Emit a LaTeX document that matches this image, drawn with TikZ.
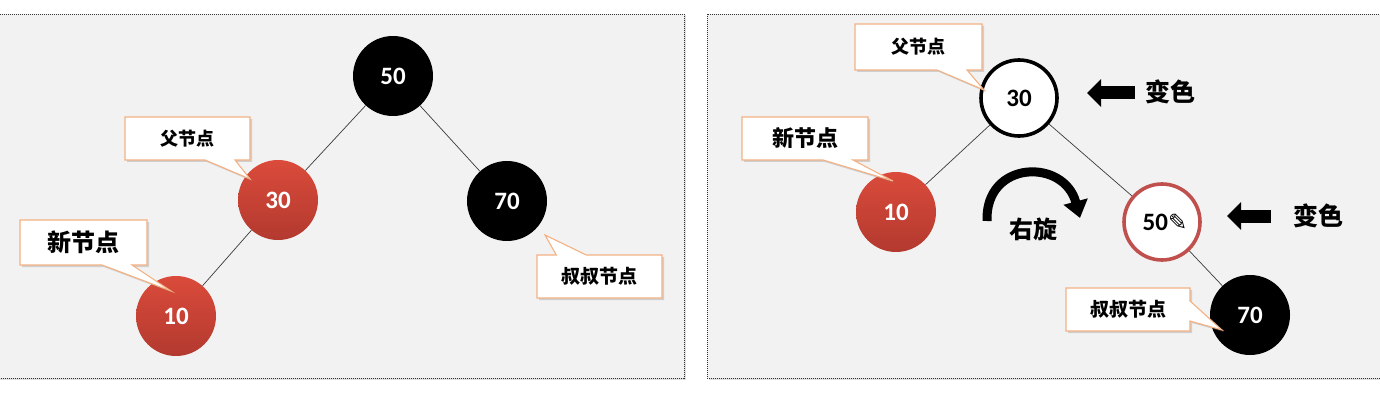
\documentclass[tikz,border=0pt]{standalone}
\usepackage{fontspec}
\setmainfont{Carlito}
\newfontfamily\cjk{Noto Sans CJK SC}
\newfontfamily\symf{DejaVu Sans}
\usetikzlibrary{shapes.callouts,shadows,arrows.meta}
\definecolor{panelbg}{HTML}{F2F2F2}
\definecolor{redtop}{HTML}{DA4B3B}
\definecolor{redbot}{HTML}{B3392F}
\definecolor{ringred}{HTML}{C0504D}
\definecolor{callb}{HTML}{F4B183}
\definecolor{edgec}{HTML}{3A3A3A}
\tikzset{
  panel/.style={fill=panelbg, draw=black!80, dash pattern=on 1pt off 1pt, line width=0.9pt,
    drop shadow={opacity=0.25, shadow xshift=1.5pt, shadow yshift=-1.5pt}},
  numfont/.style={font=\bfseries\fontsize{25}{27}\selectfont},
  rednode/.style={circle, minimum size=80pt, inner sep=0pt, top color=redtop, bottom color=redbot,
    text=white, numfont},
  blacknode/.style={circle, minimum size=80pt, inner sep=0pt, fill=black, text=white, numfont},
  whitenode/.style={circle, minimum size=76pt, inner sep=0pt, fill=white, draw=black, line width=3.6pt, numfont},
  ringnode/.style={circle, minimum size=76pt, inner sep=0pt, fill=white, draw=ringred, line width=3.6pt, numfont},
  callbox/.style={rectangle callout, fill=white, draw=callb, line width=1.1pt, inner sep=0pt,
    callout pointer width=30pt,
    drop shadow={opacity=0.3, shadow xshift=2pt, shadow yshift=-2pt}},
  treeedge/.style={draw=edgec, line width=0.7pt},
  bigarrow/.style={line width=13pt, -{Triangle[length=14pt,width=27pt]}},
  cjklabel/.style={font=\cjk\bfseries\fontsize{#1}{#1}\selectfont},
}
\begin{document}
\begin{tikzpicture}[x=1pt,y=-1pt]
\useasboundingbox (0,0) rectangle (1380,406);
\fill[white] (0,0) rectangle (1380,406);
% panels
\path[panel] (-5,14) rectangle (684,378);
\path[panel] (707,14) rectangle (1390,378);

% ---------- left tree ----------
\node[blacknode] (l50) at (393,76) {50};
\node[rednode] (l30) at (278,200) {30};
\node[blacknode] (l70) at (507,201) {70};
\node[rednode] (l10) at (176,316) {10};
\draw[treeedge] (l50) -- (l30);
\draw[treeedge] (l50) -- (l70);
\draw[treeedge] (l30) -- (l10);

\node[callbox, minimum width=125pt, minimum height=43pt, callout absolute pointer={(250,179)},
  cjklabel=18] (lcf) at (187.5,138.5) {父节点};
\node[callbox, minimum width=127pt, minimum height=45pt, callout absolute pointer={(171,291)},
  cjklabel=24] (lcn) at (83.5,242.5) {新节点};
\node[callbox, minimum width=125pt, minimum height=43pt, callout absolute pointer={(545,235)},
  cjklabel=19] (lcu) at (599.5,276.5) {叔叔节点};

% ---------- right tree ----------
\node[whitenode, text=black] (r30) at (1019,98) {30};
\node[rednode] (r10) at (896,212) {10};
\node[ringnode, text=black] (r50) at (1162,222) {\hspace*{6pt}50{\symf\mdseries\fontsize{23}{23}\selectfont ✎}};
\node[blacknode] (r70) at (1250,315) {70};
\draw[treeedge] (r30) -- (r10);
\draw[treeedge] (r30) -- (r50);
\draw[treeedge] (r50) -- (r70);

\node[callbox, minimum width=127pt, minimum height=46pt, callout absolute pointer={(984,90)},
  cjklabel=18] (rcf) at (918.5,47) {父节点};
\node[callbox, minimum width=126pt, minimum height=43pt, callout absolute pointer={(893,181)},
  cjklabel=22] (rcn) at (805,138.5) {新节点};
\node[callbox, minimum width=124pt, minimum height=43pt, callout pointer width=20pt,
  callout absolute pointer={(1222,330)}, cjklabel=19] (rcu) at (1128,309.5) {叔叔节点};

% colour-change arrows
\coordinate (a1s) at (1135,93);
\coordinate (a1e) at (1087,93);
\draw[bigarrow] (a1s) -- (a1e);
\node[cjklabel=25] (t1) at (1170,92) {变色};
\coordinate (a2s) at (1271,216);
\coordinate (a2e) at (1227,216);
\draw[bigarrow] (a2s) -- (a2e);
\node[cjklabel=25] (t2) at (1318,216) {变色};

% rotation arrow
\coordinate (rs) at (987,221);
\coordinate (re) at (1080,218);
\draw[line width=9pt, -{Triangle[length=17pt,width=24pt]}] (rs) .. controls (985,160) and (1064,158) .. (re);
\node[cjklabel=24] (rot) at (1033,229) {右旋};
\end{tikzpicture}
\end{document}
